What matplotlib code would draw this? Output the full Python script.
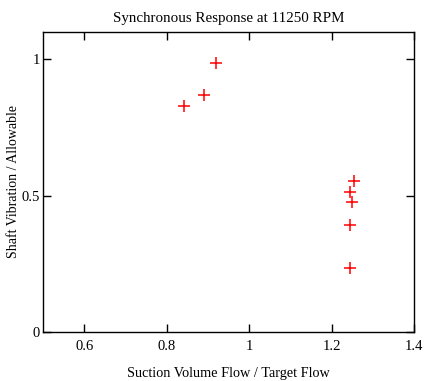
import matplotlib
matplotlib.use('Agg')
import matplotlib.pyplot as plt

# Data
flow = [0.842, 0.891, 0.920, 1.255, 1.245, 1.249, 1.245, 1.245]
vibration = [0.827, 0.868, 0.985, 0.553, 0.514, 0.475, 0.393, 0.234]

plt.rcParams['font.family'] = ['Liberation Serif', 'DejaVu Serif']

fig = plt.figure(figsize=(4.26, 3.81), dpi=100)
ax = fig.add_axes([0.101, 0.129, 0.871, 0.787])

ax.plot(flow, vibration, linestyle='none', marker='+', color='red',
        markersize=9, markeredgewidth=1.1)

ax.set_xlim(0.5, 1.4)
ax.set_ylim(0, 1.1)
ax.set_xticks([0.6, 0.8, 1.0, 1.2, 1.4])
ax.set_xticklabels(['0.6', '0.8', '1', '1.2', '1.4'])
ax.set_yticks([0, 0.5, 1])
ax.set_yticklabels(['0', '0.5', '1'])
ax.tick_params(direction='in', top=True, right=True, length=6, labelsize=10.5,
               width=1)
ax.tick_params(axis='x', pad=6)
ax.tick_params(axis='y', pad=2)
for s in ax.spines.values():
    s.set_linewidth(1)

ax.set_title('Synchronous Response at 11250 RPM', fontsize=10.8, pad=7)
ax.set_xlabel('Suction Volume Flow / Target Flow', fontsize=10.3)
ax.set_ylabel('Shaft Vibration / Allowable', fontsize=10)
ax.xaxis.set_label_coords(0.5, -0.117)
ax.yaxis.set_label_coords(-0.062, 0.5)

fig.savefig('out.png', dpi=100)
